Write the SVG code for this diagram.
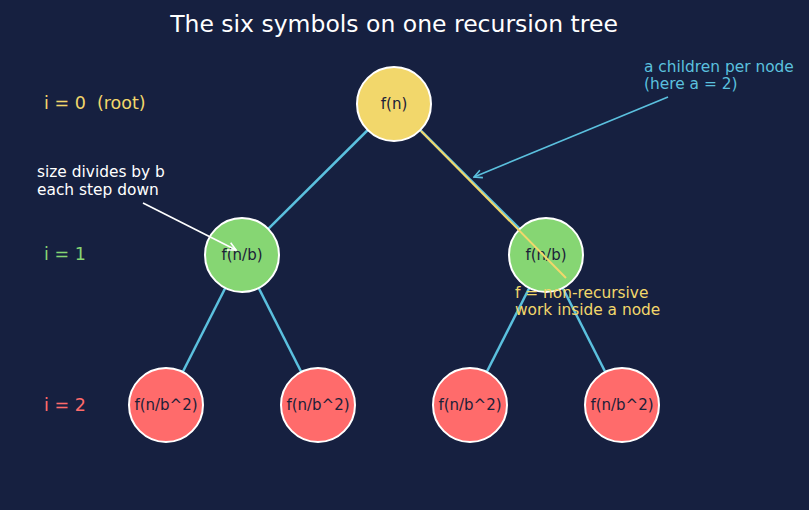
<svg xmlns="http://www.w3.org/2000/svg" width="809" height="510" viewBox="0 0 809 510">
<style>
text{font-family:"DejaVu Sans",sans-serif}
.n circle{stroke:#fff;stroke-width:2}
.n text{font-size:15px;fill:#1b2038;text-anchor:middle}
.e{stroke:#5bc0de;stroke-width:2.5;fill:none}
.lvl{font-size:17.5px;white-space:pre}
.ann{font-size:15.4px}
</style>
<defs>
<marker id="ac" markerWidth="10" markerHeight="10" refX="9" refY="5" orient="auto" markerUnits="userSpaceOnUse"><path d="M1,1 L9,5 L1,9" fill="none" stroke="#5bc0de" stroke-width="1.6"/></marker>
<marker id="aw" markerWidth="10" markerHeight="10" refX="9" refY="5" orient="auto" markerUnits="userSpaceOnUse"><path d="M1,1 L9,5 L1,9" fill="none" stroke="#fff" stroke-width="1.6"/></marker>
</defs>
<rect width="809" height="510" fill="#162040"/>
<text x="394" y="32" font-size="23.5" fill="#fff" text-anchor="middle">The six symbols on one recursion tree</text>
<g id="connectors">
<line class="e" x1="394" y1="104" x2="242" y2="255"/>
<line class="e" x1="394" y1="104" x2="546" y2="255"/>
<line class="e" x1="242" y1="255" x2="166" y2="405"/>
<line class="e" x1="242" y1="255" x2="318" y2="405"/>
<line class="e" x1="546" y1="255" x2="470" y2="405"/>
<line class="e" x1="546" y1="255" x2="622" y2="405"/>
</g>
<g id="n0" class="n"><circle cx="394" cy="104" r="37" fill="#f2d76b"/><text x="394" y="109">f(n)</text></g>
<g id="n1" class="n"><circle cx="242" cy="255" r="37" fill="#86d673"/><text x="242" y="260">f(n/b)</text></g>
<g id="n2" class="n"><circle cx="546" cy="255" r="37" fill="#86d673"/><text x="546" y="260">f(n/b)</text></g>
<g id="n3" class="n"><circle cx="166" cy="405" r="37" fill="#ff6b6b"/><text x="166" y="410">f(n/b^2)</text></g>
<g id="n4" class="n"><circle cx="318" cy="405" r="37" fill="#ff6b6b"/><text x="318" y="410">f(n/b^2)</text></g>
<g id="n5" class="n"><circle cx="470" cy="405" r="37" fill="#ff6b6b"/><text x="470" y="410">f(n/b^2)</text></g>
<g id="n6" class="n"><circle cx="622" cy="405" r="37" fill="#ff6b6b"/><text x="622" y="410">f(n/b^2)</text></g>
<g id="annotations">
<line x1="421" y1="131" x2="566" y2="278" stroke="#f2d76b" stroke-width="2"/>
<line x1="668" y1="97" x2="474" y2="177" stroke="#5bc0de" stroke-width="1.6" marker-end="url(#ac)"/>
<line x1="143" y1="203" x2="236" y2="250" stroke="#fff" stroke-width="1.6" marker-end="url(#aw)"/>
<text class="lvl" x="44" y="109" fill="#f2d76b" xml:space="preserve">i = 0  (root)</text>
<text class="lvl" x="44" y="260" fill="#86d673">i = 1</text>
<text class="lvl" x="44" y="411" fill="#ff6b6b">i = 2</text>
<text class="ann" fill="#fff"><tspan x="37" y="177">size divides by b</tspan><tspan x="37" y="195">each step down</tspan></text>
<text class="ann" fill="#5bc0de"><tspan x="644" y="72">a children per node</tspan><tspan x="644" y="89">(here a = 2)</tspan></text>
<text class="ann" fill="#f2d76b"><tspan x="515" y="298">f = non-recursive</tspan><tspan x="515" y="315">work inside a node</tspan></text>
</g>
</svg>
